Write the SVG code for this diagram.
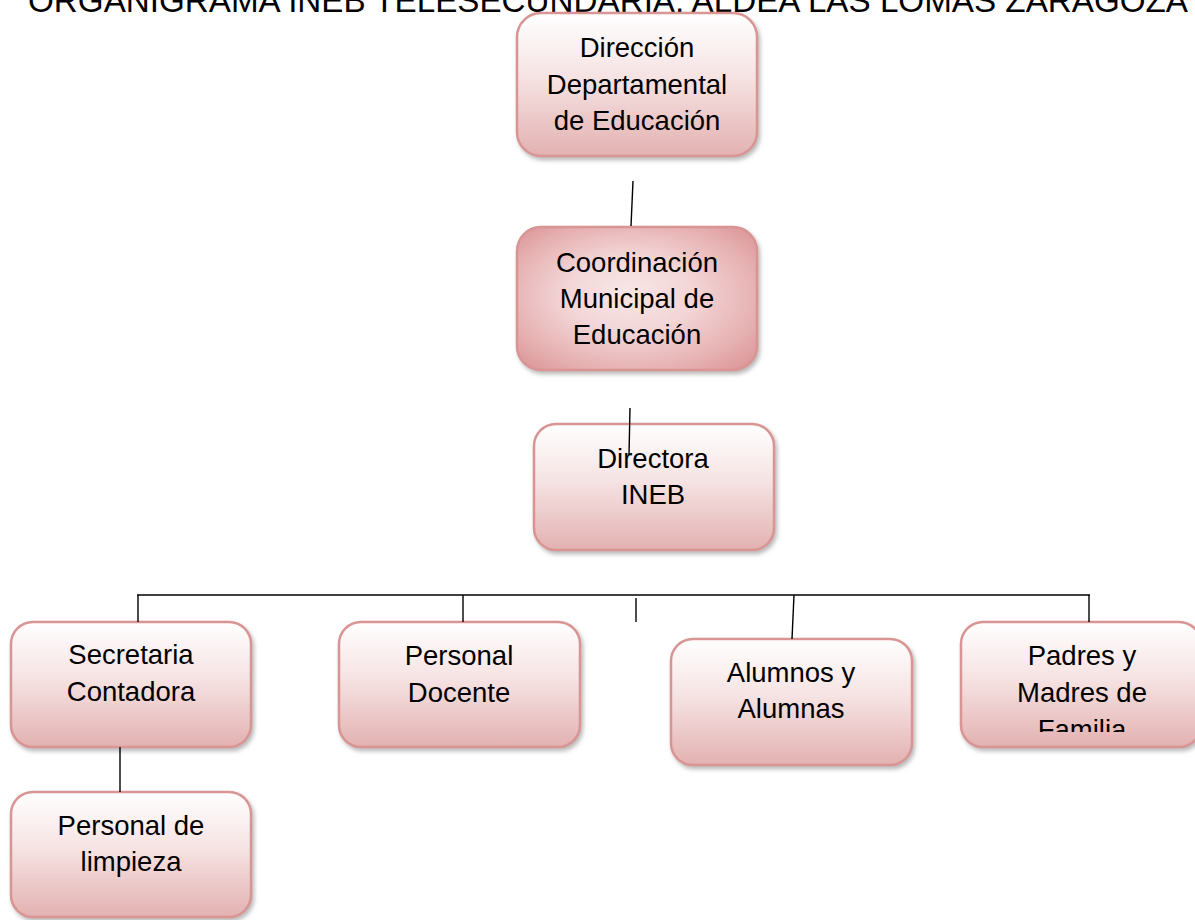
<svg xmlns="http://www.w3.org/2000/svg" width="1195" height="920" viewBox="0 0 1195 920">
<style>
.box{stroke:#d99594;stroke-width:2.5;filter:url(#sh)}
.lbl{font-family:"Liberation Sans",Arial,sans-serif;font-size:27.5px;fill:#000;text-anchor:middle}
.title{font-family:"Liberation Sans",Arial,sans-serif;font-size:33px;fill:#000}
.con{stroke:#000;stroke-width:1.4;fill:none}
</style>
<defs>
<linearGradient id="g1" x1="0" y1="0" x2="0" y2="1">
<stop offset="0" stop-color="#ffffff"/>
<stop offset="0.45" stop-color="#f6e3e3"/>
<stop offset="1" stop-color="#e3b1b1"/>
</linearGradient>
<radialGradient id="g2" cx="0.5" cy="0.5" r="0.75" fx="0.45" fy="0.45">
<stop offset="0" stop-color="#f8e6e6"/>
<stop offset="0.35" stop-color="#f3d6d7"/>
<stop offset="0.7" stop-color="#e6b0b1"/>
<stop offset="1" stop-color="#d7898c"/>
</radialGradient>
<filter id="sh" x="-10%" y="-10%" width="125%" height="130%">
<feDropShadow dx="2" dy="3" stdDeviation="2" flood-color="#808080" flood-opacity="0.55"/>
</filter>
<clipPath id="clipF"><rect x="961" y="622" width="234" height="110"/></clipPath>
</defs>
<rect width="1195" height="920" fill="#ffffff"/>
<text class="title" x="28" y="12" textLength="1160" lengthAdjust="spacingAndGlyphs">ORGANIGRAMA INEB TELESECUNDARIA, ALDEA LAS LOMAS ZARAGOZA</text>
<g id="n-direccion">
<rect class="box" x="517" y="13" width="240" height="143" rx="24" fill="url(#g1)"/>
<text class="lbl" x="637" y="57">Dirección</text>
<text class="lbl" x="637" y="94">Departamental</text>
<text class="lbl" x="637" y="130">de Educación</text>
</g>
<g id="n-coordinacion">
<rect class="box" x="517" y="227" width="240" height="143" rx="24" fill="url(#g2)"/>
<text class="lbl" x="637" y="272">Coordinación</text>
<text class="lbl" x="637" y="308">Municipal de</text>
<text class="lbl" x="637" y="344">Educación</text>
</g>
<g id="n-directora">
<rect class="box" x="534" y="424" width="240" height="126" rx="22" fill="url(#g1)"/>
<text class="lbl" x="653" y="468">Directora</text>
<text class="lbl" x="653" y="504">INEB</text>
</g>
<g id="n-secretaria">
<rect class="box" x="11" y="622" width="240" height="125" rx="22" fill="url(#g1)"/>
<text class="lbl" x="131" y="664">Secretaria</text>
<text class="lbl" x="131" y="701">Contadora</text>
</g>
<g id="n-docente">
<rect class="box" x="339" y="622" width="241" height="125" rx="22" fill="url(#g1)"/>
<text class="lbl" x="459" y="665">Personal</text>
<text class="lbl" x="459" y="702">Docente</text>
</g>
<g id="n-alumnos">
<rect class="box" x="671" y="639" width="241" height="126" rx="22" fill="url(#g1)"/>
<text class="lbl" x="791" y="682">Alumnos y</text>
<text class="lbl" x="791" y="718">Alumnas</text>
</g>
<g id="n-padres">
<rect class="box" x="961" y="622" width="240" height="125" rx="22" fill="url(#g1)"/>
<g clip-path="url(#clipF)">
<text class="lbl" x="1082" y="665">Padres y</text>
<text class="lbl" x="1082" y="702">Madres de</text>
<text class="lbl" x="1082" y="739">Familia</text>
</g>
</g>
<g id="n-limpieza">
<rect class="box" x="11" y="792" width="240" height="125" rx="22" fill="url(#g1)"/>
<text class="lbl" x="131" y="835">Personal de</text>
<text class="lbl" x="131" y="871">limpieza</text>
</g>
<g id="connectors">
<line class="con" x1="633" y1="181" x2="631" y2="226"/>
<line class="con" x1="630" y1="408" x2="629" y2="455"/>
<line class="con" x1="137" y1="595" x2="1090" y2="595"/>
<line class="con" x1="138" y1="595" x2="138" y2="622"/>
<line class="con" x1="463" y1="595" x2="463" y2="622"/>
<line class="con" x1="636" y1="598" x2="636" y2="622"/>
<line class="con" x1="794" y1="595" x2="792" y2="639"/>
<line class="con" x1="1089" y1="595" x2="1089" y2="622"/>
<line class="con" x1="120" y1="747" x2="120" y2="792"/>
</g>
</svg>
